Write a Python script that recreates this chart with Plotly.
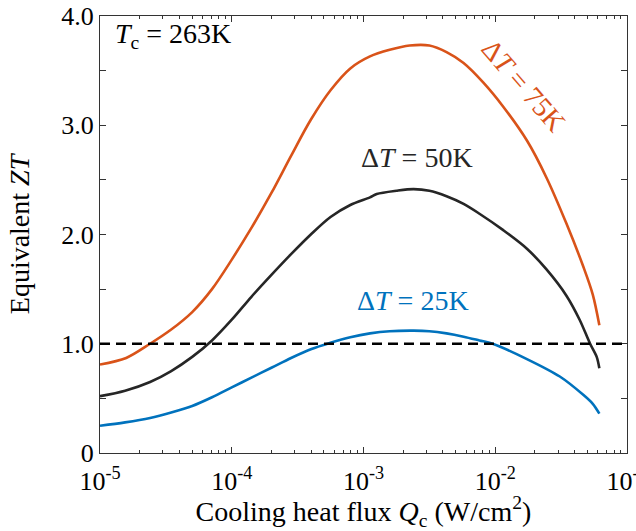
import plotly.graph_objects as go

# Cooling heat flux Qc (W/cm^2) and equivalent ZT for each temperature difference
q_75 = [1.00e-5, 1.58e-5, 2.40e-5, 3.47e-5, 5.01e-5, 7.08e-5, 1.00e-4, 1.41e-4, 2.00e-4,
        2.82e-4, 3.98e-4, 5.62e-4, 7.94e-4, 1.12e-3, 1.58e-3, 2.24e-3, 3.16e-3, 4.27e-3,
        5.75e-3, 8.13e-3, 1.15e-2, 1.74e-2, 2.45e-2, 3.47e-2, 4.68e-2, 5.50e-2, 6.17e-2]
zt_75 = [0.81, 0.87, 1.00, 1.13, 1.29, 1.50, 1.77, 2.06, 2.38,
         2.72, 3.05, 3.32, 3.52, 3.63, 3.69, 3.73, 3.73, 3.67,
         3.57, 3.39, 3.17, 2.86, 2.52, 2.10, 1.70, 1.45, 1.17]

q_50 = [1.00e-5, 1.55e-5, 2.40e-5, 3.47e-5, 5.01e-5, 7.08e-5, 1.00e-4, 1.41e-4, 2.00e-4,
        2.82e-4, 3.98e-4, 5.62e-4, 7.94e-4, 1.12e-3, 1.26e-3, 1.78e-3, 2.40e-3, 3.16e-3,
        4.27e-3, 5.75e-3, 7.59e-3, 1.15e-2, 1.74e-2, 2.45e-2, 3.47e-2, 4.37e-2, 5.25e-2,
        5.89e-2, 6.17e-2]
zt_50 = [0.52, 0.57, 0.65, 0.75, 0.88, 1.03, 1.22, 1.43, 1.63,
         1.82, 2.00, 2.16, 2.27, 2.34, 2.37, 2.40, 2.415, 2.40,
         2.35, 2.28, 2.19, 2.04, 1.87, 1.68, 1.44, 1.22, 1.00,
         0.88, 0.775]

q_25 = [1.00e-5, 1.55e-5, 2.40e-5, 3.47e-5, 5.01e-5, 7.08e-5, 1.00e-4, 1.41e-4, 2.00e-4,
        2.82e-4, 3.98e-4, 5.62e-4, 7.94e-4, 1.12e-3, 1.58e-3, 2.40e-3, 3.16e-3, 4.27e-3,
        5.75e-3, 7.59e-3, 9.55e-3, 1.74e-2, 3.09e-2, 4.68e-2, 5.50e-2, 6.17e-2]
zt_25 = [0.25, 0.28, 0.32, 0.37, 0.43, 0.51, 0.60, 0.69, 0.78,
         0.87, 0.95, 1.01, 1.06, 1.095, 1.115, 1.12, 1.115, 1.095,
         1.065, 1.03, 1.00, 0.86, 0.70, 0.53, 0.45, 0.36]

threshold = 1.0

x_tickvals = [1e-5, 1e-4, 1e-3, 1e-2, 1e-1]
x_ticktext = ["10<sup>-5</sup>", "10<sup>-4</sup>", "10<sup>-3</sup>", "10<sup>-2</sup>", "10<sup>-1</sup>"]
y_tickvals = [0, 0.5, 1.0, 1.5, 2.0, 2.5, 3.0, 3.5, 4.0]
y_ticktext = ["0", "", "1.0", "", "2.0", "", "3.0", "", "4.0"]

ORANGE = "#D95319"
BLACK = "#262626"
BLUE = "#0072BD"
FONT = "Liberation Serif"
FS_TICK = 26
FS = 28

fig = go.Figure()
for q, zt, col in [(q_75, zt_75, ORANGE), (q_50, zt_50, BLACK), (q_25, zt_25, BLUE)]:
    fig.add_trace(go.Scatter(x=q, y=zt, mode="lines",
                             line=dict(color=col, width=2.6, shape="spline", smoothing=0.9),
                             showlegend=False, hoverinfo="skip"))

fig.add_hline(y=threshold, line=dict(color="black", width=2.4, dash="10px,6px"))

minor_x = [k * 10 ** e for e in range(-5, -1) for k in range(2, 10)]

fig.update_xaxes(type="log", range=[-5.0001, -0.9999], tickmode="array", tickvals=x_tickvals,
                 ticktext=x_ticktext, ticks="inside", ticklen=6, tickwidth=1,
                 tickcolor="#333333", showline=True, linecolor="#333333", linewidth=1,
                 mirror="ticks", showgrid=False, zeroline=False, ticklabelstandoff=5,
                 ticklabeloverflow="allow", automargin=False,
                 minor=dict(tickmode="array", tickvals=minor_x, ticks="inside", ticklen=3,
                            tickwidth=1, tickcolor="#333333", showgrid=False),
                 tickfont=dict(family=FONT, size=FS_TICK, color="black"),
                 title=dict(text="Cooling heat flux <i>Q</i><sub>c</sub> (W/cm<sup>2</sup>)",
                            font=dict(family=FONT, size=FS, color="black"), standoff=13))
fig.update_yaxes(range=[0, 4], tickmode="array", tickvals=y_tickvals, ticktext=y_ticktext,
                 ticks="inside", ticklen=6, tickwidth=1, tickcolor="#333333",
                 showline=True, linecolor="#333333", linewidth=1, mirror="ticks",
                 showgrid=False, zeroline=False, automargin=False,
                 tickfont=dict(family=FONT, size=FS_TICK, color="black"),
                 title=dict(text="Equivalent <i>ZT</i>",
                            font=dict(family=FONT, size=FS, color="black"), standoff=23))

fig.add_annotation(xref="paper", yref="paper", x=0.024, y=0.955, xanchor="left", yanchor="middle",
                   text="<i>T</i><sub>c</sub> = 263K", showarrow=False,
                   font=dict(family=FONT, size=FS, color="black"))
fig.add_annotation(x=-2.596, y=2.706, text="Δ<i>T</i> = 50K", showarrow=False,
                   font=dict(family=FONT, size=FS, color=BLACK))
fig.add_annotation(x=-2.623, y=1.397, text="Δ<i>T</i> = 25K", showarrow=False,
                   font=dict(family=FONT, size=FS, color=BLUE))
fig.add_annotation(x=-1.784, y=3.365, text="Δ<i>T</i> = 75K", showarrow=False, textangle=49,
                   font=dict(family=FONT, size=FS, color=ORANGE))

fig.update_layout(width=636, height=531, margin=dict(l=100, r=9, t=16, b=78),
                  plot_bgcolor="white", paper_bgcolor="white",
                  font=dict(family=FONT, size=FS, color="black"))

fig.write_html("out.html")
